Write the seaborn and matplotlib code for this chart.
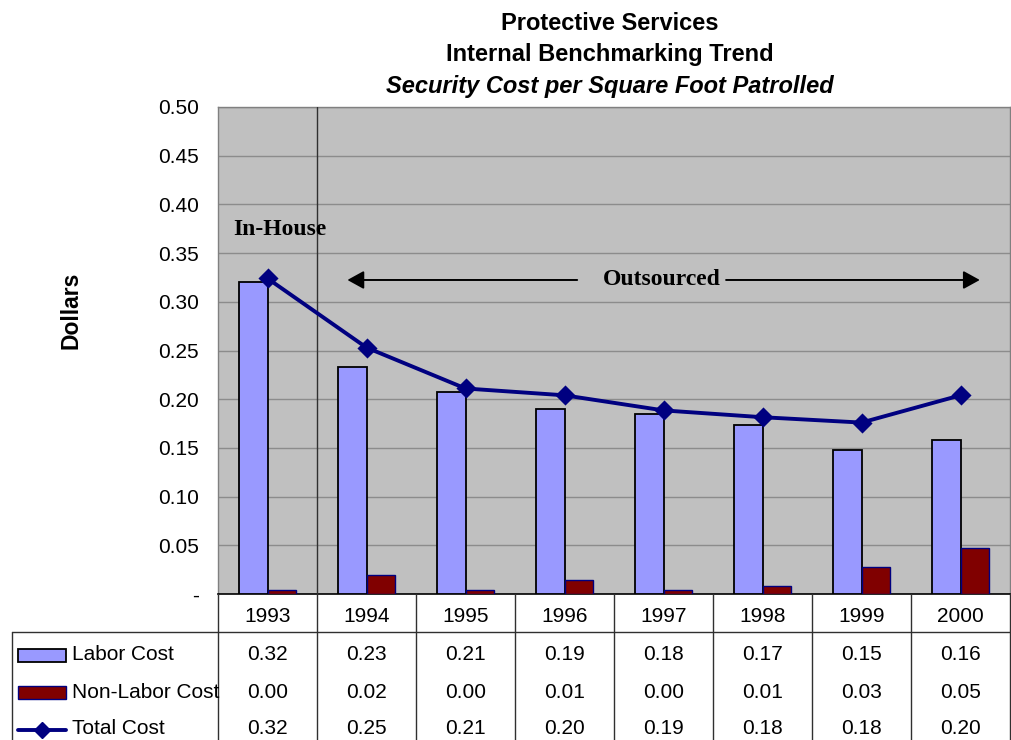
import matplotlib
matplotlib.use("Agg")
import matplotlib.pyplot as plt
import matplotlib.transforms as mtrans
from matplotlib.patches import Rectangle
from matplotlib.lines import Line2D
import seaborn as sns
import pandas as pd

# ---- data ----
years = ["1993", "1994", "1995", "1996", "1997", "1998", "1999", "2000"]
labor_cost = [0.320, 0.233, 0.207, 0.190, 0.1845, 0.173, 0.148, 0.158]
non_labor_cost = [0.004, 0.020, 0.004, 0.014, 0.004, 0.0085, 0.028, 0.047]
total_cost = [0.324, 0.253, 0.211, 0.204, 0.1885, 0.1815, 0.176, 0.204]
series_names = ["Labor Cost", "Non-Labor Cost", "Total Cost"]
y_ticks = [0.0, 0.05, 0.10, 0.15, 0.20, 0.25, 0.30, 0.35, 0.40, 0.45, 0.50]

sns.set_style("white")
plt.rcParams["font.family"] = ["Liberation Sans", "DejaVu Sans"]
plt.rcParams["text.color"] = "black"
plt.rcParams["xtick.color"] = "black"
plt.rcParams["ytick.color"] = "black"
plt.rcParams["axes.labelcolor"] = "black"

W, H = 1011, 740
fig = plt.figure(figsize=(W / 100, H / 100), dpi=100)
fx = lambda px: px / W
fy = lambda py: 1 - py / H

ax = fig.add_axes([fx(218), fy(594), (1010 - 218) / W, (594 - 107) / H])
ax.set_facecolor("#C0C0C0")

bars = pd.DataFrame({
    "Year": years * 2,
    "Value": labor_cost + non_labor_cost,
    "Series": [series_names[0]] * len(years) + [series_names[1]] * len(years),
})
tot = pd.DataFrame({"Year": years, "Total": total_cost})

bar_colors = ["#9999FF", "#800000"]
edge_colors = ["#000000", "#000080"]
sns.barplot(data=bars, x="Year", y="Value", hue="Series", order=years,
            hue_order=series_names[:2], palette=bar_colors, width=0.585,
            gap=0, saturation=1, legend=False, ax=ax, zorder=3)
for cont, ec, lw in zip(ax.containers, edge_colors, [1.3, 1.0]):
    for p in cont:
        p.set_edgecolor(ec)
        p.set_linewidth(lw)

sns.pointplot(data=tot, x="Year", y="Total", order=years, color="#000080",
              markers="D", markersize=8, linewidth=2.8, errorbar=None,
              ax=ax, zorder=5)

ax.set_xlim(-0.5, len(years) - 0.5)
ax.set_ylim(0, 0.5)
ax.set_yticks(y_ticks)
ax.set_yticklabels(["-" if v == 0 else f"{v:.2f}" for v in y_ticks], fontsize=15)
ax.grid(axis="y", color="#8C8C8C", linewidth=1.0, zorder=0)
ax.set_axisbelow(True)
ax.tick_params(axis="y", length=0, pad=14)
ax.tick_params(axis="x", length=0, pad=9, labelsize=15)
ax.set_xlabel("")
ax.set_ylabel("")
for s in ["left", "top", "right"]:
    ax.spines[s].set_color("#808080")
    ax.spines[s].set_linewidth(1.0)
ax.spines["bottom"].set_color("#000000")
ax.spines["bottom"].set_linewidth(1.2)

# In-house / outsourced divider
ax.axvline(0.5, color="#303030", linewidth=1.0, zorder=4)

serif = ["Liberation Serif", "DejaVu Serif"]
ax.text(0.126, 0.3747, "In-House", family=serif, fontweight="bold",
        fontsize=17, ha="center", va="center", zorder=6)
ax.text(3.98, 0.3224, "Outsourced", family=serif, fontweight="bold",
        fontsize=17, ha="center", va="center", zorder=6)
ay = 0.3224
arrow_style = dict(arrowstyle="-|>,head_length=1.0,head_width=0.55",
                   color="black", lw=1.4, shrinkA=0, shrinkB=0)
ax.annotate("", xy=(0.807, ay), xytext=(3.128, ay), arrowprops=arrow_style, zorder=6)
ax.annotate("", xy=(7.195, ay), xytext=(4.632, ay), arrowprops=arrow_style, zorder=6)

# Title and y label
fig.text(fx(610), fy(23), "Protective Services", fontsize=17, fontweight="bold",
         ha="center", va="center")
fig.text(fx(610), fy(54), "Internal Benchmarking Trend", fontsize=17,
         fontweight="bold", ha="center", va="center")
fig.text(fx(610), fy(86), "Security Cost per Square Foot Patrolled", fontsize=17,
         fontweight="bold", style="italic", ha="center", va="center")
fig.text(fx(71), fy(310), "Dollars", fontsize=16.5, fontweight="bold",
         rotation=90, ha="center", va="center")

# ---- data table ----
tr = mtrans.blended_transform_factory(ax.transData, fig.transFigure)
line_col = "#303030"
for k in range(len(years) + 1):
    fig.add_artist(Line2D([k - 0.5, k - 0.5], [fy(594), fy(740)], transform=tr,
                          color=line_col, linewidth=1.0, clip_on=False))
fig.add_artist(Line2D([fx(12), fx(1011)], [fy(632), fy(632)],
                      transform=fig.transFigure, color=line_col, linewidth=1.0))
fig.add_artist(Line2D([fx(12), fx(12)], [fy(632), fy(740)],
                      transform=fig.transFigure, color=line_col, linewidth=1.0))

row_y = [655, 692, 729]
row_vals = [labor_cost, non_labor_cost, total_cost]
for ry, vals in zip(row_y, row_vals):
    for i, v in enumerate(vals):
        fig.text(i, fy(ry), f"{v:.2f}", transform=tr, fontsize=15,
                 ha="center", va="center")

# legend keys inside table
fig.add_artist(Rectangle((fx(18), fy(662)), fx(66) - fx(18), fy(649) - fy(662),
                         transform=fig.transFigure, facecolor=bar_colors[0],
                         edgecolor=edge_colors[0], linewidth=1.3))
fig.add_artist(Rectangle((fx(18), fy(699)), fx(66) - fx(18), fy(686) - fy(699),
                         transform=fig.transFigure, facecolor=bar_colors[1],
                         edgecolor=edge_colors[1], linewidth=1.0))
fig.add_artist(Line2D([fx(18), fx(66)], [fy(730), fy(730)], transform=fig.transFigure,
                      color="#000080", linewidth=2.8))
fig.add_artist(Line2D([fx(42)], [fy(730)], transform=fig.transFigure,
                      color="#000080", marker="D", markersize=8, linestyle="none"))
for ry, name in zip(row_y, series_names):
    fig.text(fx(72), fy(ry), name, fontsize=15, ha="left", va="center")

fig.savefig("out.png", dpi=100)
